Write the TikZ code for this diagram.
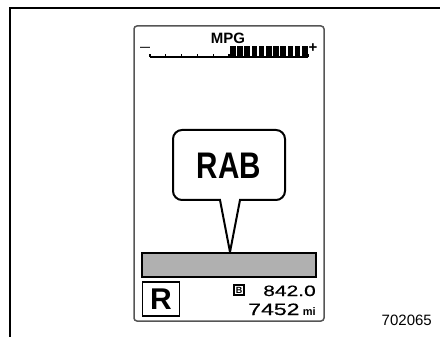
\documentclass[tikz,border=0pt]{standalone}
\usepackage{fontspec}
\setmainfont{Liberation Sans}
\newfontfamily\narrowfont[FakeStretch=0.8]{Liberation Sans}
\newfontfamily\widefont[FakeStretch=1.4,FakeBold=0.6]{Liberation Sans}
\usetikzlibrary{positioning}
\definecolor{panel}{HTML}{555555}
\definecolor{barfill}{HTML}{B0B0B0}

\begin{document}
\begin{tikzpicture}[x=1pt,y=-1pt,
    frameline/.style={line width=2pt,black},
    bubble/.style={line width=2pt,fill=white},
    readout/.style={inner sep=0pt,anchor=base east,font=\widefont\fontsize{15}{15}\selectfont}]
    \useasboundingbox (0,0) rectangle (440,337);
    % outer frame
    \draw[frameline] (10,337) -- (10,8) -- (440,8);
    % display
    \draw[panel,line width=1.5pt,rounded corners=3pt] (134,26) rectangle (324,321);
    \node[inner sep=0pt,font=\bfseries\fontsize{15}{15}\selectfont] (mpg) at (228,38) {MPG};
    \node[inner sep=0pt,font=\bfseries\fontsize{10}{10}\selectfont] (minus) at (145,49) {---};
    \node[inner sep=0pt,font=\bfseries\fontsize{15}{15}\selectfont] (plus) at (313,48) {+};
    \coordinate (scaleL) at (150,57);
    \coordinate (scaleR) at (308,57);
    \draw[line width=1.2pt] (scaleL) -- (scaleR);
    \foreach \i in {0,...,10}
        \draw[line width=1.2pt] (150+\i*15.8,57) -- ++(0,-2.5);
    \foreach \i in {0,...,10}
        \fill (230+\i*7.2,46) rectangle ++(5.6,10);
    % message
    \draw[bubble] (230,252) -- (240,200) [rounded corners=9pt] -- (285,200) -- (285,130)
        -- (173,130) -- (173,200) [sharp corners] -- (220,200) -- cycle;
    \node[inner sep=0pt,font=\narrowfont\bfseries\fontsize{37}{37}\selectfont] (rab) at (229,166) {RAB};
    \draw[line width=1.5pt,fill=barfill] (142,253) rectangle (316,277);
    % gear and odometer
    \node[draw,line width=1.4pt,minimum width=37pt,minimum height=34pt,inner sep=0pt,
          font=\bfseries\fontsize{30}{30}\selectfont] (gear) at (161,299) {R};
    \node[readout] (trip) at (316,296) {842.0};
    \node[draw,line width=1.4pt,minimum width=10pt,minimum height=10pt,inner sep=0pt,
          font=\bfseries\fontsize{9}{9}\selectfont] (tripB) at (239,290) {B};
    \node[inner sep=0pt,anchor=base east,font=\bfseries\fontsize{11}{11}\selectfont] (unit) at (316,315) {mi};
    \node[readout,font=\widefont\fontsize{16.5}{16.5}\selectfont] (odo) at (unit.base west) [xshift=-3pt] {7452};
    \node[inner sep=0pt,anchor=base east,font=\fontsize{15}{15}\selectfont] (code) at (432,325) {702065};
\end{tikzpicture}
\end{document}
